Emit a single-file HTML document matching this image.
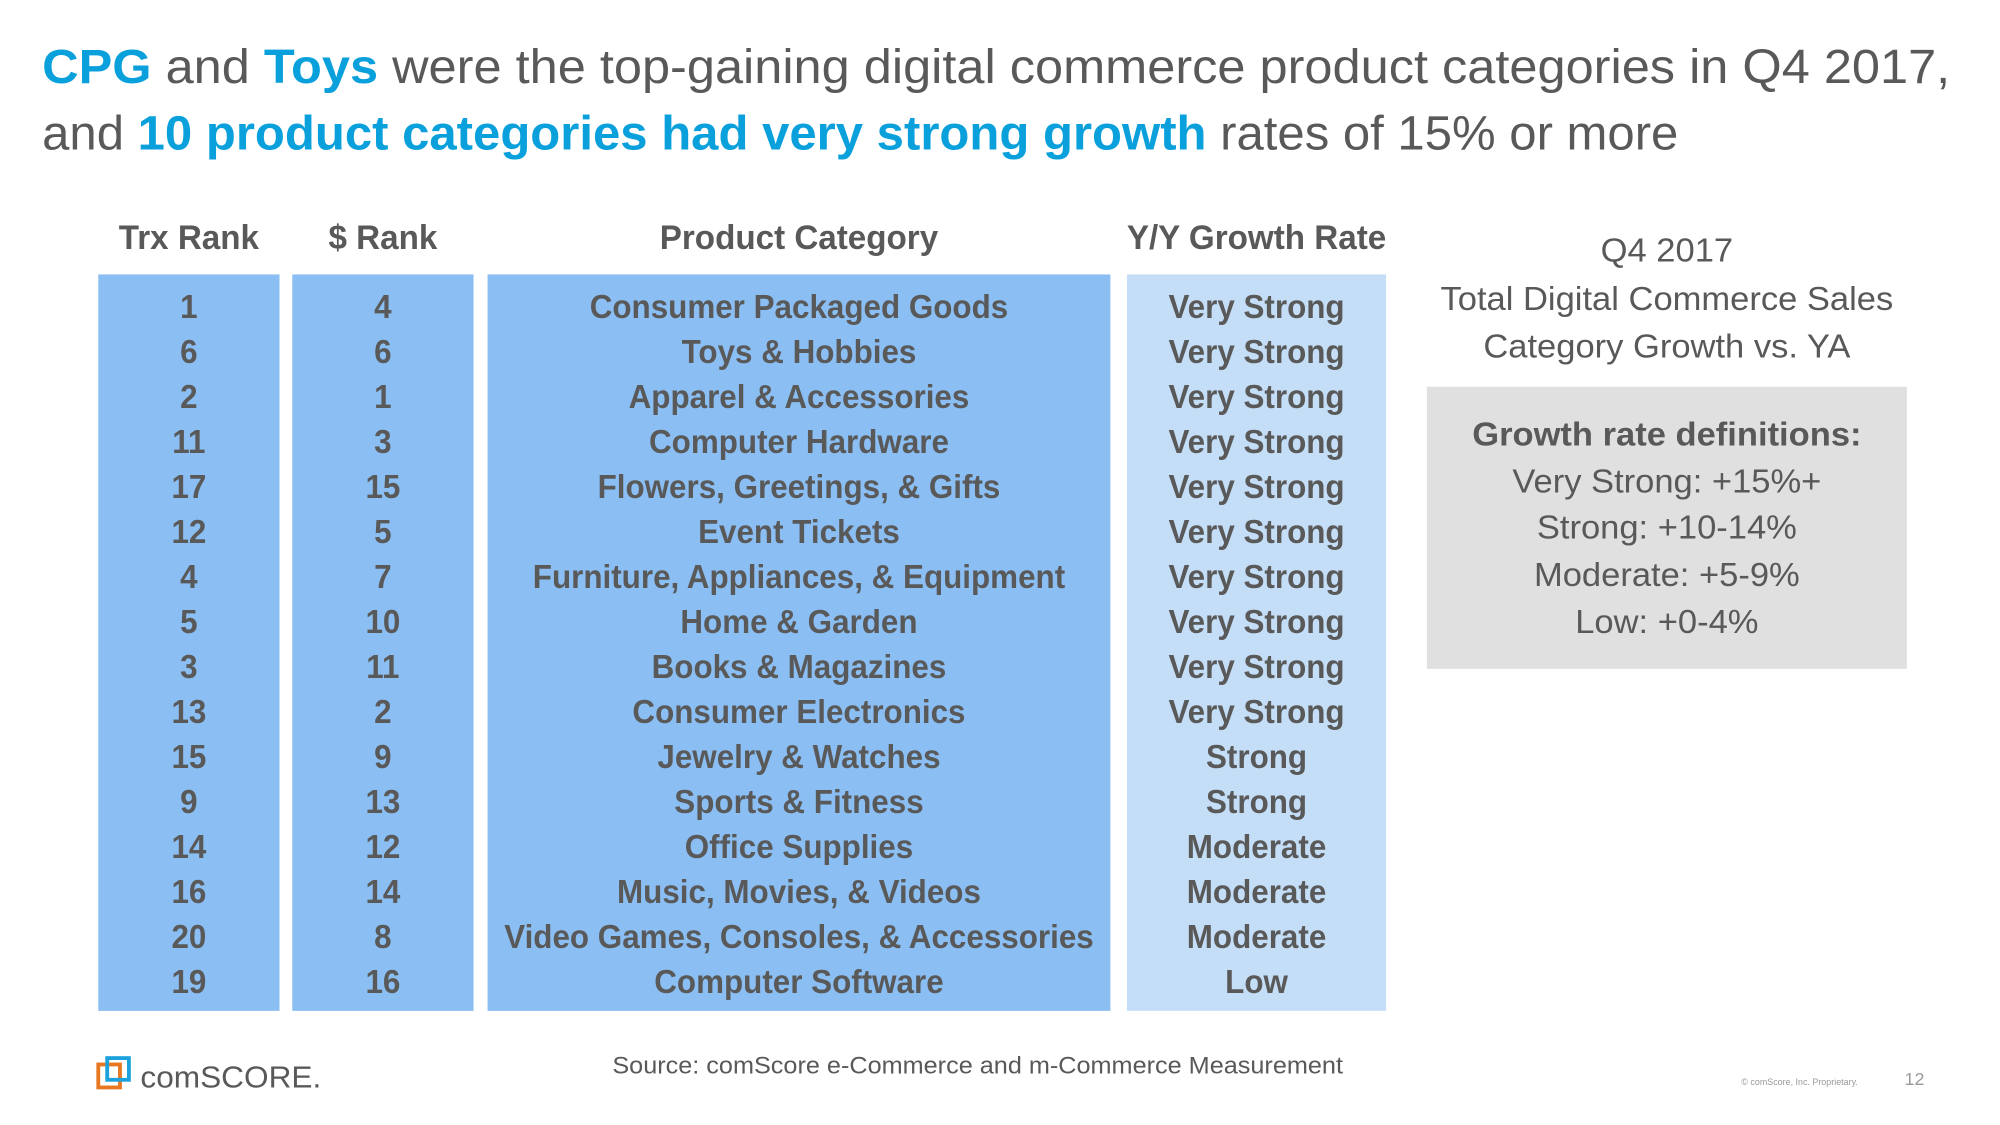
<!DOCTYPE html>
<html><head><meta charset="utf-8"><style>
html,body{margin:0;padding:0;background:#fff;width:2000px;height:1125px;overflow:hidden}
svg{display:block}
text{font-family:"Liberation Sans",sans-serif;fill:#595959}
</style></head><body>
<svg id="s" width="2000" height="1125" viewBox="0 0 1567 881.4">
<g>
<text x="33" y="65" font-size="38" textLength="1495" lengthAdjust="spacingAndGlyphs"><tspan font-weight="bold" style="fill:#0AA0DC">CPG</tspan> and <tspan font-weight="bold" style="fill:#0AA0DC">Toys</tspan> were the top-gaining digital commerce product categories in Q4 2017,</text>
<text x="33" y="117" font-size="38" textLength="1282" lengthAdjust="spacingAndGlyphs">and <tspan font-weight="bold" style="fill:#0AA0DC">10 product categories had very strong growth</tspan> rates of 15% or more</text>
</g>
<g id="tbl"></g>
<g>
<text x="1306" y="205" font-size="26" text-anchor="middle" class="c" data-k="1.21">Q4 2017</text>
<text x="1306" y="243" font-size="26" text-anchor="middle" class="c" data-k="1.21">Total Digital Commerce Sales</text>
<text x="1306" y="280" font-size="26" text-anchor="middle" class="c" data-k="1.21">Category Growth vs. YA</text>
<rect x="1118" y="303" width="376" height="221" fill="#E0E0E0"/>
<text x="1306" y="349" font-size="26" font-weight="bold" text-anchor="middle" class="c" data-k="1.21">Growth rate definitions:</text>
<text x="1306" y="386" font-size="26" text-anchor="middle" class="c" data-k="1.21">Very Strong: +15%+</text>
<text x="1306" y="422" font-size="26" text-anchor="middle" class="c" data-k="1.21">Strong: +10-14%</text>
<text x="1306" y="459" font-size="26" text-anchor="middle" class="c" data-k="1.21">Moderate: +5-9%</text>
<text x="1306" y="496" font-size="26" text-anchor="middle" class="c" data-k="1.21">Low: +0-4%</text>
</g>
<g>
<g>
<rect x="77" y="834" width="17" height="18" fill="none" stroke="#E87722" stroke-width="3"/>
<rect x="84" y="829" width="17" height="17" fill="none" stroke="#1BA1DC" stroke-width="3"/>
<text x="110" y="852" font-size="24" font-family="Liberation Serif" class="c" data-k="1.2">comSCORE.</text>
</g>
<text x="766" y="841" font-size="19" text-anchor="middle" class="c" data-k="1.21">Source: comScore e-Commerce and m-Commerce Measurement</text>
<text x="1410" y="850" font-size="7" text-anchor="middle" style="fill:#999">© comScore, Inc. Proprietary.</text>
<text x="1500" y="850" font-size="14" text-anchor="middle" style="fill:#999">12</text>
</g>
</svg>
<script>
const trxRank=[1,6,2,11,17,12,4,5,3,13,15,9,14,16,20,19];
const dollarRank=[4,6,1,3,15,5,7,10,11,2,9,13,12,14,8,16];
const categories=["Consumer Packaged Goods","Toys & Hobbies","Apparel & Accessories","Computer Hardware","Flowers, Greetings, & Gifts","Event Tickets","Furniture, Appliances, & Equipment","Home & Garden","Books & Magazines","Consumer Electronics","Jewelry & Watches","Sports & Fitness","Office Supplies","Music, Movies, & Videos","Video Games, Consoles, & Accessories","Computer Software"];
const growth=["Very Strong","Very Strong","Very Strong","Very Strong","Very Strong","Very Strong","Very Strong","Very Strong","Very Strong","Very Strong","Strong","Strong","Moderate","Moderate","Moderate","Low"];
const headers=["Trx Rank","$ Rank","Product Category","Y/Y Growth Rate"];
const NS="http://www.w3.org/2000/svg";
const tblG=document.getElementById('tbl');
const cols=[{x:77,w:142,f:"#8BBEF2",n:"trx-rank"},{x:229,w:142,f:"#8BBEF2",n:"dollar-rank"},{x:382,w:488,f:"#8BBEF2",n:"product-category"},{x:883,w:203,f:"#C5DEF7",n:"growth-rate"}];
const tblTop=215,tblBottom=792,rowH=35.27,rowStart=222.4;
const tblData=[trxRank,dollarRank,categories,growth];
function txt(x,y,s,size,name,k){const t=document.createElementNS(NS,'text');t.setAttribute('x',x);t.setAttribute('y',y);t.setAttribute('font-size',size);t.setAttribute('font-weight','bold');t.setAttribute('text-anchor','middle');t.setAttribute('class','c');t.setAttribute('data-k',k);


t.textContent=s;tblG.appendChild(t);return t;}
cols.forEach((c,ci)=>{
const r=document.createElementNS(NS,'rect');r.setAttribute('x',c.x);r.setAttribute('y',tblTop);r.setAttribute('width',c.w);r.setAttribute('height',tblBottom-tblTop);r.setAttribute('fill',c.f);


tblG.appendChild(r);
txt(c.x+c.w/2,195,headers[ci],27,c.n+'-header',1.12);
tblData[ci].forEach((v,i)=>{txt(c.x+c.w/2,rowStart+rowH*(i+0.5)+9,String(v),26,c.n+'-cell',1.10);});
});
document.querySelectorAll('text.c').forEach(t=>{const k=parseFloat(t.getAttribute('data-k')||'1');const l=t.getComputedTextLength();t.setAttribute('textLength',l*0.86*k);t.setAttribute('lengthAdjust','spacingAndGlyphs');});
</script>
</body></html>
